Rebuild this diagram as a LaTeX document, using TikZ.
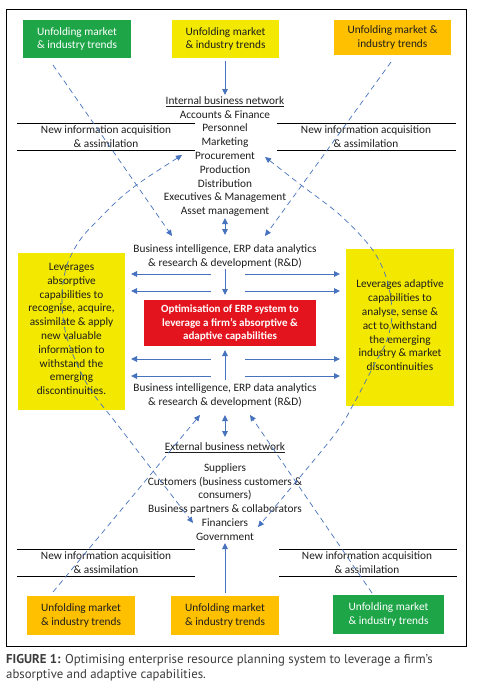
\documentclass[tikz,border=0pt]{standalone}
\usepackage{fontspec}
\setmainfont{Carlito}
\newfontfamily\capfont{PT Sans}
\usetikzlibrary{arrows.meta}
\definecolor{cgreen}{RGB}{30,165,72}
\definecolor{cyellow}{RGB}{242,232,0}
\definecolor{corange}{RGB}{255,192,0}
\definecolor{cred}{RGB}{228,20,30}
\definecolor{cblue}{RGB}{70,114,190}
\definecolor{ctext}{RGB}{30,30,30}
\definecolor{ccap}{RGB}{60,60,60}
\tikzset{
  diagfont/.style={font=\fontsize{11.3}{13.8}\selectfont},
  box/.style={rectangle, align=center, inner sep=0pt, diagfont, text=ctext},
  lbl/.style={align=center, inner sep=0pt, diagfont, text=ctext},
  arr/.style={draw=cblue, line width=0.9pt, -{Triangle[length=6pt,width=5.5pt]}},
  darr/.style={draw=cblue, line width=0.7pt, dashed, dash pattern=on 5.5pt off 4pt, -{Triangle[length=6pt,width=5.5pt]}},
  dbarr/.style={draw=cblue, line width=0.7pt, dashed, dash pattern=on 5.5pt off 4pt, {Triangle[length=6pt,width=5.5pt]}-{Triangle[length=6pt,width=5.5pt]}},
  bothr/.style={draw=cblue, line width=0.9pt, {Triangle[length=6pt,width=5.5pt]}-{Triangle[length=6pt,width=5.5pt]}},
  rule/.style={draw=black, line width=0.8pt},
}
\begin{document}
\begin{tikzpicture}[x=1pt,y=-1pt]
\useasboundingbox (0,0) rectangle (479,688);
\fill[white] (0,0) rectangle (479,688);
\draw[line width=1pt] (6,9) rectangle (466,646);

% top boxes
\node[box, fill=cgreen, text=white, minimum width=108, minimum height=38] (tl) at (77,39) {Unfolding market\\\& industry trends};
\node[box, fill=cyellow, minimum width=107, minimum height=38] (tc) at (225.5,39) {Unfolding market\\\& industry trends};
\node[box, fill=corange, minimum width=117, minimum height=35] (tr) at (392.5,37.5) {Unfolding market \&\\industry trends};

% bottom boxes
\node[box, fill=corange, minimum width=108, minimum height=39] (bl) at (81,615.5) {Unfolding market\\\& industry trends};
\node[box, fill=corange, minimum width=108, minimum height=39] (bc) at (225,615.5) {Unfolding market\\\& industry trends};
\node[box, fill=cgreen, text=white, minimum width=111, minimum height=39] (br) at (388.5,614.5) {Unfolding market\\\& industry trends};

% side yellow boxes
\node[box, fill=cyellow, minimum width=107, minimum height=157] (lbox) at (71.5,331.5) {};
\node[lbl] (ltext) at (71.5,329) {Leverages\\absorptive\\capabilities to\\recognise, acquire,\\assimilate \& apply\\new valuable\\information to\\withstand the\\emerging\\discontinuities.};
\node[box, fill=cyellow, minimum width=108, minimum height=157] (rbox) at (400,327.5) {};
\node[lbl] (rtext) at (400,325.5) {Leverages adaptive\\capabilities to\\analyse, sense \&\\act to withstand\\the emerging\\industry \& market\\discontinuities};

% red box
\node[box, fill=cred, text=white, font=\bfseries\fontsize{11}{13.8}\selectfont, minimum width=172, minimum height=46] (red) at (230,323) {Optimisation of ERP system to\\leverage a firm’s absorptive \&\\adaptive capabilities};

% internal network
\node[lbl] (intnet) at (225,156.5) {\underline{Internal business network}\\Accounts \& Finance\\Personnel\\Marketing\\Procurement\\Production\\Distribution\\Executives \& Management\\Asset management};

% BI texts
\node[lbl] (bitop) at (225,256.5) {Business intelligence, ERP data analytics\\\& research \& development (R\&D)};
\node[lbl] (bibot) at (225,395.5) {Business intelligence, ERP data analytics\\\& research \& development (R\&D)};

% external network
\node[lbl] (exthead) at (225,448) {\underline{External business network}};
\node[lbl] (extlist) at (225,502) {Suppliers\\Customers (business customers \&\\consumers)\\Business partners \& collaborators\\Financiers\\Government};

% new info labels and rules
\node[lbl] (nitl) at (106,137) {New information acquisition\\\& assimilation};
\node[lbl] (nitr) at (366,137) {New information acquisition\\\& assimilation};
\node[lbl] (nibl) at (106,563) {New information acquisition\\\& assimilation};
\node[lbl] (nibr) at (367,563) {New information acquisition\\\& assimilation};
\coordinate (r1a) at (17,123); \coordinate (r1b) at (195,123);
\coordinate (r2a) at (17,150); \coordinate (r2b) at (195,150);
\coordinate (r3a) at (277,123); \coordinate (r3b) at (456,123);
\coordinate (r4a) at (277,150); \coordinate (r4b) at (456,150);
\coordinate (r5a) at (17,549); \coordinate (r5b) at (195,549);
\coordinate (r6a) at (17,576); \coordinate (r6b) at (195,576);
\coordinate (r7a) at (279,549); \coordinate (r7b) at (457,549);
\coordinate (r8a) at (279,576); \coordinate (r8b) at (457,576);
\foreach \r in {1,...,8} {\draw[rule] (r\r a) -- (r\r b);}

% solid arrows
\coordinate (a1s) at (225,61); \coordinate (a1e) at (225,95);
\draw[arr] (a1s) -- (a1e);
\coordinate (a2s) at (225,218); \coordinate (a2e) at (225,235);
\draw[bothr] (a2s) -- (a2e);
\coordinate (a3s) at (225,269); \coordinate (a3e) at (225,295);
\draw[arr] (a3s) -- (a3e);
\coordinate (a4s) at (225,380); \coordinate (a4e) at (225,350);
\draw[arr] (a4s) -- (a4e);
\coordinate (a5s) at (225,415); \coordinate (a5e) at (225,437);
\draw[bothr] (a5s) -- (a5e);
\coordinate (a6s) at (225,593); \coordinate (a6e) at (225,543);
\draw[arr] (a6s) -- (a6e);
\foreach \yy/\nm in {274/u1,291/u2,359/d1,376/d2} {
  \coordinate (\nm ls) at (211,\yy); \coordinate (\nm le) at (131,\yy);
  \coordinate (\nm rs) at (245,\yy); \coordinate (\nm re) at (340,\yy);
  \draw[arr] (\nm ls) -- (\nm le);
  \draw[arr] (\nm rs) -- (\nm re);
}

% dashed straight arrows
\coordinate (x1s) at (53,65); \coordinate (x1e) at (172,236);
\coordinate (x2s) at (391,62); \coordinate (x2e) at (265,236);
\coordinate (x3s) at (53,592); \coordinate (x3e) at (200,415);
\coordinate (x4s) at (372,593); \coordinate (x4e) at (250,415);
\draw[darr] (x1s) -- (x1e);
\draw[darr] (x2s) -- (x2e);
\draw[darr] (x3s) -- (x3e);
\draw[darr] (x4s) -- (x4e);

% dashed curves
\coordinate (cl1) at (182,155); \coordinate (cl2) at (193,523);
\coordinate (cr1) at (265,157); \coordinate (cr2) at (258,527);
\draw[dbarr] plot[smooth, tension=0.55] coordinates {(cl1) (130,190) (100,218) (80,240) (67,265) (62,295) (65,330) (76,362) (92,392) (120,428) (cl2)};
\draw[dbarr] plot[smooth, tension=0.55] coordinates {(cr1) (301,185) (340,215) (372,249) (387,280) (392,313) (387,340) (373,367) (353,405) (332,438) (cr2)};

% caption
\node[anchor=west, inner sep=0pt, text=ccap, font=\capfont\fontsize{12.8}{15}\selectfont] (cap1) at (6,660) {\textbf{FIGURE 1:} Optimising enterprise resource planning system to leverage a firm’s};
\node[anchor=west, inner sep=0pt, text=ccap, font=\capfont\fontsize{12.8}{15}\selectfont] (cap2) at (6,675) {absorptive and adaptive capabilities.};
\end{tikzpicture}
\end{document}
